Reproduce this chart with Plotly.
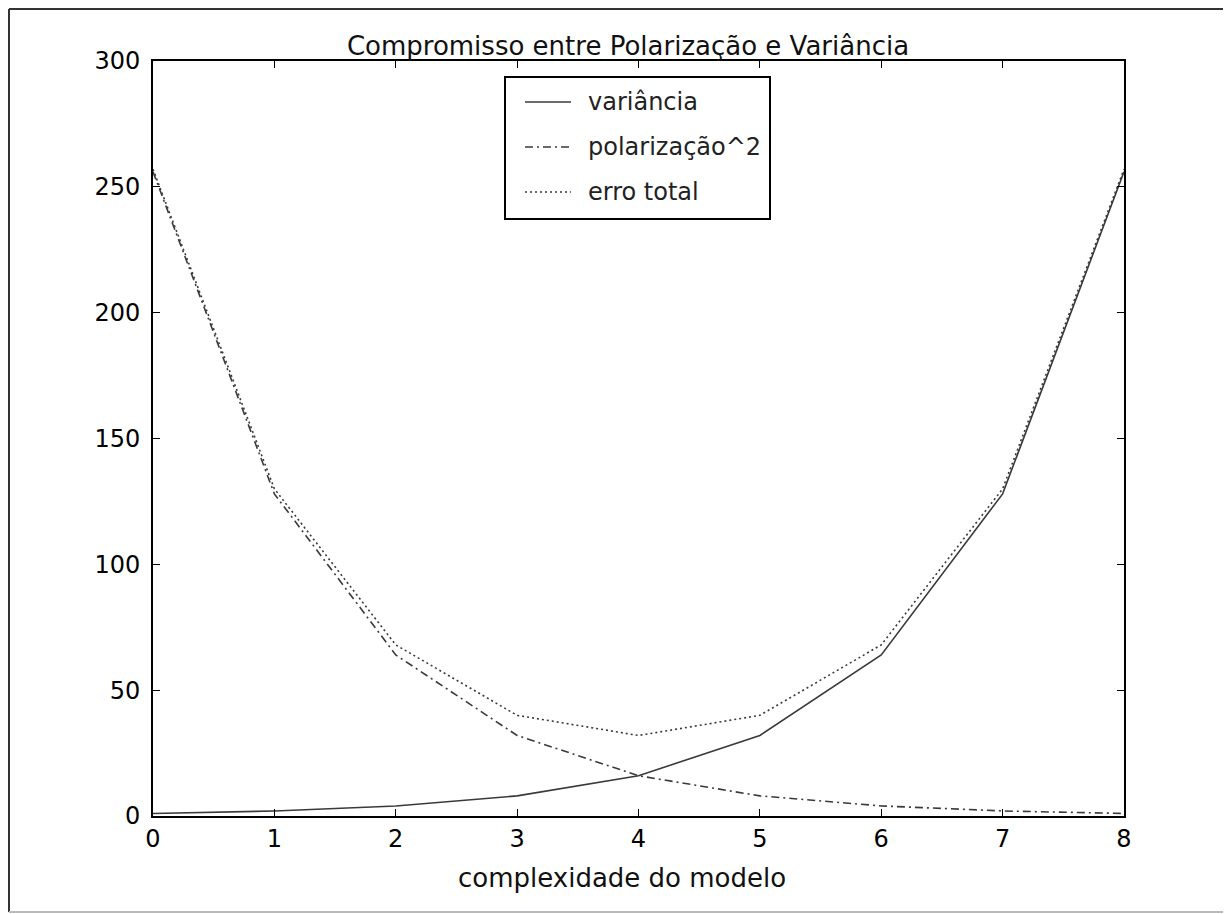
import plotly.graph_objects as go

complexity = [0, 1, 2, 3, 4, 5, 6, 7, 8]
variance = [1, 2, 4, 8, 16, 32, 64, 128, 256]
bias_squared = [256, 128, 64, 32, 16, 8, 4, 2, 1]
total_error = [v + b for v, b in zip(variance, bias_squared)]
y_ticks = [0, 50, 100, 150, 200, 250, 300]
series_names = ["variância", "polarização^2", "erro total"]

# page has an ~8px body offset; the figure is sized to compensate
OFF = 8
W, H = 1231 - OFF, 914 - OFF
PL, PR, PT, PB = 153, 1124, 61, 816          # plot area in page pixels
L, T = PL - OFF, PT - OFF
R, B = W - (PR - OFF), H - (PB - OFF)
pw, ph = PR - PL, PB - PT


def px_x(x):
    return (x - PL) / pw


def px_y(y):
    return (PB - y) / ph


line_color = "#3a3a3a"
dashes = ["solid", "8px,4px,2px,4px", "2px,3px"]
series = [variance, bias_squared, total_error]

fig = go.Figure()
for name, vals, d in zip(series_names, series, dashes):
    fig.add_trace(go.Scatter(x=complexity, y=vals, mode="lines", name=name,
                             showlegend=False,
                             line=dict(color=line_color, width=1.6, dash=d)))

# outer frame: dark top/left/right, light bottom
frame = [((9, 9), (1228, 9), "#333333"),
         ((9, 9), (9, 912), "#333333"),
         ((1228, 9), (1228, 912), "#333333"),
         ((9, 912), (1228, 912), "#bbbbbb")]
for (xa, ya), (xb, yb), col in frame:
    fig.add_shape(type="line", xref="paper", yref="paper",
                  x0=px_x(xa), x1=px_x(xb), y0=px_y(ya), y1=px_y(yb),
                  line=dict(color=col, width=2), layer="below")

# manual legend
fig.add_shape(type="rect", xref="paper", yref="paper",
              x0=px_x(505), x1=px_x(770), y0=px_y(219), y1=px_y(77),
              line=dict(color="black", width=2), fillcolor="white", layer="above")
rows = [102, 147, 192]
for name, d, ry in zip(series_names, dashes, rows):
    fig.add_shape(type="line", xref="paper", yref="paper",
                  x0=px_x(525), x1=px_x(571), y0=px_y(ry), y1=px_y(ry),
                  line=dict(color=line_color, width=1.6, dash=d), layer="above")
    fig.add_annotation(text=name, xref="paper", yref="paper",
                       x=px_x(586), y=px_y(ry), xanchor="left", yanchor="middle",
                       showarrow=False,
                       font=dict(family="DejaVu Sans", size=24, color="#222222"))

# x-axis title
fig.add_annotation(text="complexidade do modelo", xref="paper", yref="paper",
                   x=px_x(622), y=px_y(878), xanchor="center", yanchor="middle",
                   showarrow=False,
                   font=dict(family="DejaVu Sans", size=26, color="#111111"))

axis_common = dict(showgrid=False, zeroline=False, showline=True, linecolor="black",
                   linewidth=2, mirror="allticks", ticks="inside", ticklen=7,
                   tickcolor="black", tickwidth=1,
                   tickfont=dict(family="DejaVu Sans", size=24, color="black"))

fig.update_xaxes(range=[0, 8], tickvals=complexity,
                 ticktext=[str(c) for c in complexity], **axis_common)
fig.update_yaxes(range=[0, 300], tickvals=y_ticks,
                 ticktext=[str(v) for v in y_ticks], ticklabelstandoff=6,
                 **axis_common)

fig.update_layout(
    width=W, height=H,
    margin=dict(l=L, r=R, t=T, b=B, autoexpand=False),
    paper_bgcolor="white", plot_bgcolor="white",
    title=dict(text="Compromisso entre Polarização e Variância",
               x=px_x(628), xanchor="center", xref="paper",
               y=1 - (46 - OFF) / H, yanchor="middle",
               font=dict(family="DejaVu Sans", size=26, color="#111111")),
    showlegend=False,
)

fig.write_html("out.html")
